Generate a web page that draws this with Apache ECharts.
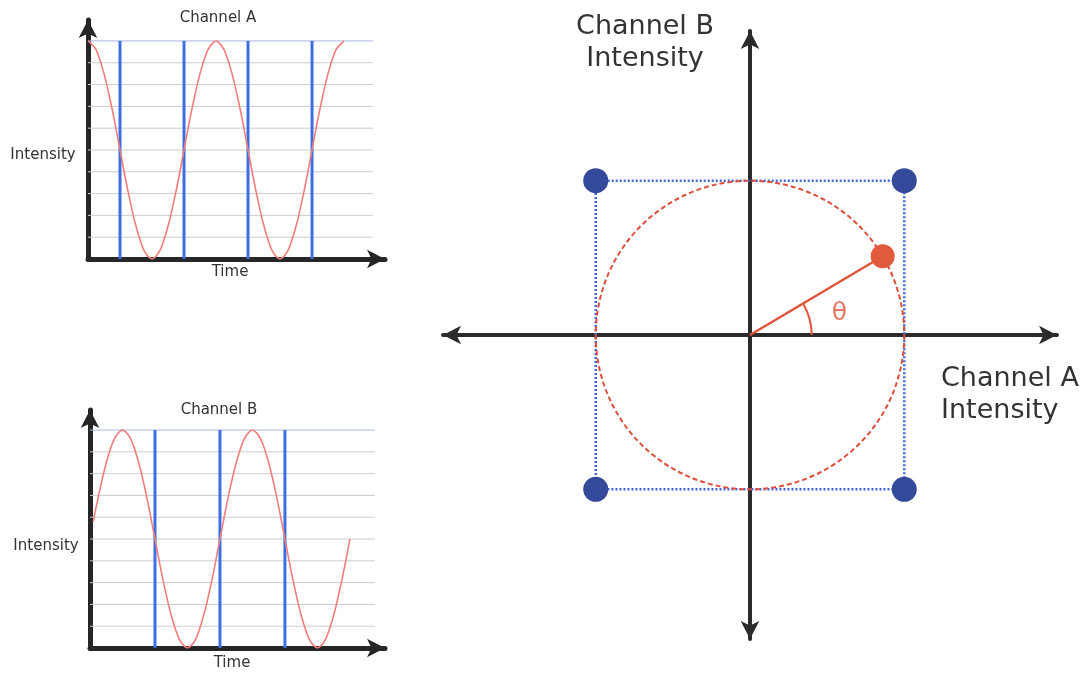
<!DOCTYPE html>
<html>
<head>
<meta charset="utf-8">
<script src="https://cdn.jsdelivr.net/npm/echarts@6/dist/echarts.min.js"></script>
<style>
  html, body { margin: 0; padding: 0; background: #fff; }
  #main { width: 1087px; height: 675px; }
</style>
</head>
<body>
<div id="main"></div>
<script>
// time in quarter periods, intensity 0..10
const timeA = [0, 0.25, 0.5, 0.75, 1, 1.25, 1.5, 1.75, 2, 2.25, 2.5, 2.75, 3, 3.25, 3.5, 3.75, 4,
  4.25, 4.5, 4.75, 5, 5.25, 5.5, 5.75, 6, 6.25, 6.5, 6.75, 7, 7.25, 7.5, 7.75, 8];
const intensityA = [10, 9.6, 8.5, 6.9, 5, 3.1, 1.5, 0.4, 0, 0.4, 1.5, 3.1, 5, 6.9, 8.5, 9.6, 10,
  9.6, 8.5, 6.9, 5, 3.1, 1.5, 0.4, 0, 0.4, 1.5, 3.1, 5, 6.9, 8.5, 9.6, 10];
const timeB = [0.1, 0.25, 0.5, 0.75, 1, 1.25, 1.5, 1.75, 2, 2.25, 2.5, 2.75, 3, 3.25, 3.5, 3.75, 4,
  4.25, 4.5, 4.75, 5, 5.25, 5.5, 5.75, 6, 6.25, 6.5, 6.75, 7, 7.25, 7.5, 7.75, 8];
const intensityB = [5.8, 6.9, 8.5, 9.6, 10, 9.6, 8.5, 6.9, 5, 3.1, 1.5, 0.4, 0, 0.4, 1.5, 3.1, 5,
  6.9, 8.5, 9.6, 10, 9.6, 8.5, 6.9, 5, 3.1, 1.5, 0.4, 0, 0.4, 1.5, 3.1, 5];
const samplesA = [1, 3, 5, 7];
const samplesB = [2, 4, 6];
const gridLevels = [1, 2, 3, 4, 5, 6, 7, 8, 9, 10];

// constellation plot (channel A, channel B)
const corners = [[-1, 1], [1, 1], [1, -1], [-1, -1]];
const unitCircle = [[0, 0, 1]];
const phasePoint = [0.86, 0.51];
const thetaArc = [[0, 0, 0.4, 30]];
const thetaLabel = [0.58, 0.14];

const FONT = '"DejaVu Sans", Verdana, sans-serif';
const RED = '#f27d7d';
const BLUE = '#3d6fe0';

const chart = echarts.init(document.getElementById('main'));

function zip(a, b) { return a.map((v, i) => [v, b[i]]); }

function smallAxis(max) {
  return {
    type: 'value', min: 0, max: max,
    axisLine: { show: true, onZero: false, symbol: ['none', 'arrow'], symbolSize: [14, 18],
      lineStyle: { color: '#262626', width: 5 } },
    axisTick: { show: false }, axisLabel: { show: false }, splitLine: { show: false }
  };
}
function bigAxis(lim) {
  return {
    type: 'value', min: -lim, max: lim,
    axisLine: { show: true, onZero: true, symbol: ['arrow', 'arrow'], symbolSize: [14, 18],
      lineStyle: { color: '#2b2b2b', width: 4 } },
    axisTick: { show: false }, axisLabel: { show: false }, splitLine: { show: false }
  };
}

function levelLines(idx, end) {
  return {
    type: 'custom', xAxisIndex: idx, yAxisIndex: idx, z: 1, silent: true,
    data: gridLevels.map(v => [v]),
    renderItem: function (params, api) {
      const v = api.value(0);
      const a = api.coord([0, v]), b = api.coord([end, v]);
      return { type: 'line', shape: { x1: a[0], y1: a[1], x2: b[0], y2: b[1] },
        style: { stroke: v === 10 ? '#a9b8e4' : '#cccccc', lineWidth: 1 } };
    }
  };
}
function sampleLines(idx, times) {
  return {
    type: 'custom', xAxisIndex: idx, yAxisIndex: idx, z: 2, silent: true,
    data: times.map(t => [t]),
    renderItem: function (params, api) {
      const t = api.value(0);
      const a = api.coord([t, 0]), b = api.coord([t, 10]);
      return { type: 'line', shape: { x1: a[0], y1: a[1], x2: b[0], y2: b[1] },
        style: { stroke: BLUE, lineWidth: 3 } };
    }
  };
}
function wave(idx, data) {
  return {
    type: 'line', xAxisIndex: idx, yAxisIndex: idx, z: 3, silent: true,
    data: data, smooth: 0.3, showSymbol: false,
    lineStyle: { color: RED, width: 1.6 }
  };
}

function label(text, x, y, size, align) {
  return {
    type: 'text', x: x, y: y, silent: true,
    style: { text: text, font: size + 'px ' + FONT, fill: '#333333',
      textAlign: align || 'center', textVerticalAlign: 'middle', lineHeight: Math.round(size * 1.18) }
  };
}

const option = {
  animation: false,
  backgroundColor: '#fff',
  grid: [
    { left: 88, top: 20, width: 297, height: 239 },
    { left: 90, top: 410, width: 295, height: 238 },
    { left: 443, top: 31, width: 614, height: 608 }
  ],
  xAxis: [
    Object.assign(smallAxis(9.28), { gridIndex: 0 }),
    Object.assign(smallAxis(9.08), { gridIndex: 1 }),
    Object.assign(bigAxis(1.99), { gridIndex: 2 })
  ],
  yAxis: [
    Object.assign(smallAxis(10.96), { gridIndex: 0 }),
    Object.assign(smallAxis(10.92), { gridIndex: 1 }),
    Object.assign(bigAxis(1.97), { gridIndex: 2 })
  ],
  graphic: [
    label('Channel A', 218, 18, 15),
    label('Intensity', 43, 155, 15),
    label('Time', 230, 272, 15),
    label('Channel B', 219, 410, 15),
    label('Intensity', 46, 546, 15),
    label('Time', 232, 663, 15),
    label('Channel B\nIntensity', 645, 43, 27),
    label('Channel A\nIntensity', 941, 395, 27, 'left')
  ],
  series: [
    levelLines(0, 8.9),
    sampleLines(0, samplesA),
    wave(0, zip(timeA, intensityA)),
    levelLines(1, 8.77),
    sampleLines(1, samplesB),
    wave(1, zip(timeB, intensityB)),
    {
      type: 'line', xAxisIndex: 2, yAxisIndex: 2, z: 2, silent: true,
      data: corners.concat([corners[0]]), showSymbol: false,
      lineStyle: { color: '#4166d8', width: 2.5, type: [2, 2] }
    },
    {
      type: 'custom', xAxisIndex: 2, yAxisIndex: 2, z: 3, silent: true,
      data: unitCircle,
      renderItem: function (params, api) {
        const c = api.coord([api.value(0), api.value(1)]);
        const r = api.size([api.value(2), 0])[0];
        return { type: 'circle', shape: { cx: c[0], cy: c[1], r: r },
          style: { fill: 'none', stroke: '#dc4f3c', lineWidth: 2, lineDash: [5, 3] } };
      }
    },
    {
      type: 'custom', xAxisIndex: 2, yAxisIndex: 2, z: 4, silent: true,
      data: thetaArc,
      renderItem: function (params, api) {
        const c = api.coord([api.value(0), api.value(1)]);
        const r = api.size([api.value(2), 0])[0];
        const a = api.value(3) * Math.PI / 180;
        return { type: 'arc', shape: { cx: c[0], cy: c[1], r: r, startAngle: -a, endAngle: 0, clockwise: true },
          style: { fill: 'none', stroke: '#e0553c', lineWidth: 2 } };
      }
    },
    {
      type: 'line', xAxisIndex: 2, yAxisIndex: 2, z: 5, silent: true,
      data: [[0, 0], phasePoint], showSymbol: false,
      lineStyle: { color: '#e0553c', width: 2.5 }
    },
    {
      type: 'scatter', xAxisIndex: 2, yAxisIndex: 2, z: 6, silent: true,
      data: corners, symbolSize: 25,
      itemStyle: { color: '#34499a', opacity: 1 }
    },
    {
      type: 'scatter', xAxisIndex: 2, yAxisIndex: 2, z: 6, silent: true,
      data: [phasePoint], symbolSize: 24,
      itemStyle: { color: '#e05a3c', opacity: 1 }
    },
    {
      type: 'scatter', xAxisIndex: 2, yAxisIndex: 2, z: 6, silent: true,
      data: [thetaLabel], symbolSize: 0,
      label: { show: true, position: 'inside', formatter: 'θ',
        fontFamily: FONT, fontSize: 25, color: '#e0553c' }
    }
  ]
};
chart.setOption(option);
</script>
</body>
</html>
